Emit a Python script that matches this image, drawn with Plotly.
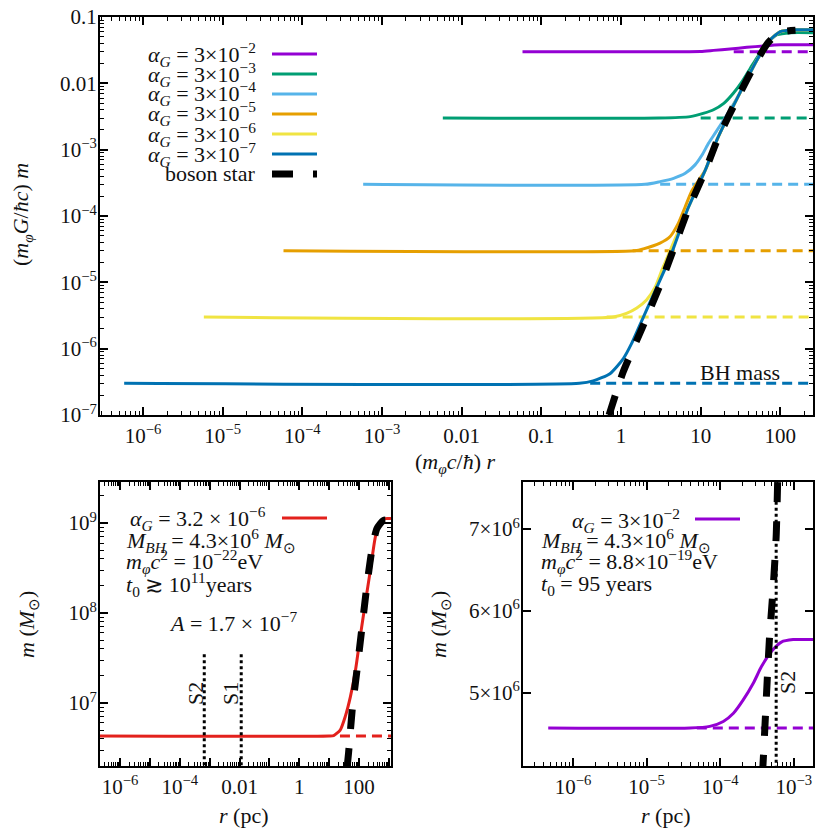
import plotly.graph_objects as go

# the page body has an 8px margin: the figure is sized/offset so that the
# visible 830x830 window matches the reference pixel layout
OFF = 8
W = H = 822

# ---------------- data: top panel (dimensionless units) ----------------
alpha_vals = [3e-2, 3e-3, 3e-4, 3e-5, 3e-6, 3e-7]
alpha_text = ["3×10<sup>−2</sup>", "3×10<sup>−3</sup>", "3×10<sup>−4</sup>",
              "3×10<sup>−5</sup>", "3×10<sup>−6</sup>", "3×10<sup>−7</sup>"]
colors = ["#9400D3", "#009E73", "#56B4E9", "#E69F00", "#F0E442", "#0072B2"]

r_a2 = [0.058, 5.0, 10.0, 14.5, 23.4, 38.0, 61.7, 100, 257]
m_a2 = [0.03, 0.03, 0.0302, 0.0314, 0.033, 0.0349, 0.0366, 0.038, 0.038]

r_a3 = [0.0058, 3.0, 7.4, 11.0, 14.5, 19.5, 25.7, 33.1, 42.2, 53.7, 68.4, 91.2, 135, 257]
m_a3 = [3e-3, 3e-3, 3.15e-3, 3.55e-3, 4.0e-3, 5.0e-3, 7.1e-3, 0.0106, 0.017, 0.027, 0.040, 0.054, 0.058, 0.058]

r_a4 = [5.8e-4, 2.0, 3.09, 4.57, 6.4, 8.5, 10.4, 12.6, 15.8, 30.2, 51.3, 70.8, 100, 148, 257]
m_a4 = [3e-4, 3e-4, 3.3e-4, 3.7e-4, 4.4e-4, 5.9e-4, 8.3e-4, 1.26e-3, 1.9e-3, 6.7e-3, 0.0228, 0.0425, 0.060, 0.064, 0.064]

r_a5 = [5.8e-5, 1.5, 1.91, 3.09, 4.14, 5.25, 6.4, 7.76, 11.5, 16.2, 30.2, 51.3, 70.8, 100, 148, 257]
m_a5 = [3e-5, 3e-5, 3.2e-5, 3.9e-5, 4.9e-5, 7.8e-5, 1.38e-4, 2.4e-4, 5.0e-4, 1.45e-3, 6.7e-3, 0.0228, 0.0425, 0.060, 0.064, 0.064]

r_a6 = [5.8e-6, 0.8, 1.17, 1.58, 2.09, 2.69, 3.24, 3.76, 6.92, 11.5, 16.2, 30.2, 51.3, 70.8, 100, 148, 257]
m_a6 = [3e-6, 3e-6, 3.4e-6, 4.1e-6, 5.4e-6, 8.5e-6, 1.5e-5, 2.3e-5, 1.3e-4, 5.0e-4, 1.45e-3, 6.7e-3, 0.0228, 0.0425, 0.060, 0.064, 0.064]

r_a7 = [5.8e-7, 0.3, 0.447, 0.726, 1.07, 1.36, 1.91, 2.82, 4.14, 6.92, 11.5, 16.2, 30.2, 51.3, 70.8, 100, 148, 257]
m_a7 = [3e-7, 3e-7, 3.27e-7, 4.2e-7, 7.1e-7, 1.2e-6, 3.0e-6, 8.5e-6, 2.4e-5, 1.3e-4, 5.0e-4, 1.45e-3, 6.7e-3, 0.0228, 0.0425, 0.060, 0.064, 0.064]

r_curves = [r_a2, r_a3, r_a4, r_a5, r_a6, r_a7]
m_curves = [m_a2, m_a3, m_a4, m_a5, m_a6, m_a7]

# BH-mass dashed levels: start radius of each dashed line
r_dash_start = [26.0, 10.0, 3.1, 1.4, 0.66, 0.41]
r_dash_end = 257

r_boson = [0.708, 1.06, 1.84, 3.09, 4.37, 6.92, 11.5, 16.2, 30.2, 51.3, 70.8, 100, 155]
m_boson = [1e-7, 4.4e-7, 2.04e-6, 9.1e-6, 2.75e-5, 1.23e-4, 4.9e-4, 1.41e-3, 6.6e-3, 0.0224, 0.0417, 0.0589, 0.0631]

top_xtick_vals = [1e-6, 1e-5, 1e-4, 1e-3, 0.01, 0.1, 1, 10, 100]
top_xtick_text = ["10<sup>−6</sup>", "10<sup>−5</sup>", "10<sup>−4</sup>", "10<sup>−3</sup>",
                  "0.01", "0.1", "1", "10", "100"]
top_ytick_vals = [1e-7, 1e-6, 1e-5, 1e-4, 1e-3, 0.01, 0.1]
top_ytick_text = ["10<sup>−7</sup>", "10<sup>−6</sup>", "10<sup>−5</sup>", "10<sup>−4</sup>",
                  "10<sup>−3</sup>", "0.01", "0.1"]

# ---------------- data: bottom-left (physical, alpha_G = 3.2e-6) ----------------
r_red = [2.1e-7, 10, 14.1, 23.4, 34.7, 51.3, 75.9, 110, 162, 240, 355, 513, 759, 1175]
m_red = [4.3e6, 4.3e6, 4.35e6, 5.0e6, 7.1e6, 1.17e7, 2.3e7, 5.5e7, 1.29e8, 3.0e8, 7.1e8, 1.02e9, 1.12e9, 1.12e9]
r_bl_boson = [39.8, 44.7, 58.9, 85.1, 126, 186, 269, 398, 661, 1175]
m_bl_boson = [1.9e6, 2.8e6, 8.3e6, 2.3e7, 7.0e7, 2.1e8, 5.0e8, 8.7e8, 1.07e9, 1.07e9]
M_BH = 4.3e6
r_red_dash = [23.0, 1175]
r_S2_bl = 6.6e-4
r_S1_bl = 0.0114
m_S_top_bl = 3.6e7
bl_xtick_vals = [1e-6, 1e-5, 1e-4, 1e-3, 0.01, 0.1, 1, 10, 100, 1000]
bl_xtick_text = ["10<sup>−6</sup>", "", "10<sup>−4</sup>", "", "0.01", "", "1", "", "100", ""]
bl_ytick_vals = [1e7, 1e8, 1e9]
bl_ytick_text = ["10<sup>7</sup>", "10<sup>8</sup>", "10<sup>9</sup>"]

# ---------------- data: bottom-right (alpha_G = 3e-2) ----------------
r_pur = [4.6e-7, 3.9e-5, 7.2e-5, 1.1e-4, 1.51e-4, 2.04e-4, 2.82e-4, 3.63e-4, 5.01e-4, 6.76e-4, 9.77e-4, 1.86e-3]
m_pur = [4.57e6, 4.57e6, 4.59e6, 4.65e6, 4.75e6, 4.91e6, 5.12e6, 5.32e6, 5.51e6, 5.62e6, 5.65e6, 5.65e6]
r_br_boson = [3.72e-4, 3.80e-4, 4.37e-4, 4.68e-4, 5.25e-4, 5.75e-4, 6.03e-4]
m_br_boson = [4.0e6, 4.11e6, 5.2e6, 5.69e6, 6.3e6, 6.91e6, 7.6e6]
m_pur_level = 4.57e6
r_pur_dash = [4.8e-5, 1.86e-3]
r_S2_br = 5.75e-4
m_S2_br = [4.0e6, 7.45e6]
br_xtick_vals = [1e-6, 1e-5, 1e-4, 1e-3]
br_xtick_text = ["10<sup>−6</sup>", "10<sup>−5</sup>", "10<sup>−4</sup>", "10<sup>−3</sup>"]
br_ytick_vals = [5e6, 6e6, 7e6]
br_ytick_text = ["5×10<sup>6</sup>", "6×10<sup>6</sup>", "7×10<sup>6</sup>"]

# ---------------- styling helpers ----------------
FONT = "Liberation Serif"
TXT = "#111111"


def px(x):
    return (x - OFF) / W


def py(y):
    return 1 - (y - OFF) / H


def log_minor(lo, hi):
    return [k * 10 ** e for e in range(lo, hi + 1) for k in range(2, 10)]


def axis(domain, rng, typ, tv, tt, minor_vals=None, anchor=None, standoff=1):
    d = dict(domain=domain, range=rng, type=typ, tickmode="array", tickvals=tv, ticktext=tt,
             showline=True, linecolor="black", linewidth=2, mirror="ticks",
             ticks="inside", ticklen=8, tickwidth=1.5, tickcolor="black",
             showgrid=False, zeroline=False, anchor=anchor, automargin=False,
             ticklabeloverflow="allow",
             tickfont=dict(family=FONT, size=21, color=TXT), ticklabelstandoff=standoff)
    if minor_vals is not None:
        d["minor"] = dict(tickmode="array", tickvals=minor_vals, ticks="inside", ticklen=4,
                          tickwidth=1.2, tickcolor="black", showgrid=False)
    return d


fig = go.Figure()

BLACK_DASH = "20px,19px"
LEVEL_DASH = "10px,6px"

# top panel: dashed BH-mass levels
for a, c, rs in zip(alpha_vals, colors, r_dash_start):
    fig.add_trace(go.Scatter(x=[rs, r_dash_end], y=[a, a], mode="lines",
                             line=dict(color=c, width=3, dash=LEVEL_DASH),
                             xaxis="x", yaxis="y", showlegend=False, hoverinfo="skip"))
# top panel: solid curves
for rr, mm, c in zip(r_curves, m_curves, colors):
    fig.add_trace(go.Scatter(x=rr, y=mm, mode="lines",
                             line=dict(color=c, width=3, shape="spline", smoothing=0.6),
                             xaxis="x", yaxis="y", showlegend=False, hoverinfo="skip"))
fig.add_trace(go.Scatter(x=r_boson, y=m_boson, mode="lines",
                         line=dict(color="black", width=7, dash=BLACK_DASH, shape="spline", smoothing=0.6),
                         xaxis="x", yaxis="y", showlegend=False, hoverinfo="skip"))

# bottom-left
fig.add_trace(go.Scatter(x=r_red_dash, y=[M_BH, M_BH], mode="lines",
                         line=dict(color="#E3211C", width=3, dash=LEVEL_DASH),
                         xaxis="x2", yaxis="y2", showlegend=False, hoverinfo="skip"))
fig.add_trace(go.Scatter(x=r_red, y=m_red, mode="lines",
                         line=dict(color="#E3211C", width=3, shape="spline", smoothing=0.6),
                         xaxis="x2", yaxis="y2", showlegend=False, hoverinfo="skip"))
fig.add_trace(go.Scatter(x=r_bl_boson, y=m_bl_boson, mode="lines",
                         line=dict(color="black", width=7, dash=BLACK_DASH, shape="spline", smoothing=0.6),
                         xaxis="x2", yaxis="y2", showlegend=False, hoverinfo="skip"))
for rs in [r_S2_bl, r_S1_bl]:
    fig.add_trace(go.Scatter(x=[rs, rs], y=[1.5e6, m_S_top_bl], mode="lines",
                             line=dict(color="black", width=3, dash="3px,3px"),
                             xaxis="x2", yaxis="y2", showlegend=False, hoverinfo="skip"))

# bottom-right
fig.add_trace(go.Scatter(x=r_pur_dash, y=[m_pur_level, m_pur_level], mode="lines",
                         line=dict(color="#9400D3", width=3, dash=LEVEL_DASH),
                         xaxis="x3", yaxis="y3", showlegend=False, hoverinfo="skip"))
fig.add_trace(go.Scatter(x=r_pur, y=m_pur, mode="lines",
                         line=dict(color="#9400D3", width=3, shape="spline", smoothing=0.6),
                         xaxis="x3", yaxis="y3", showlegend=False, hoverinfo="skip"))
fig.add_trace(go.Scatter(x=r_br_boson, y=m_br_boson, mode="lines",
                         line=dict(color="black", width=7, dash=BLACK_DASH, shape="spline", smoothing=0.6),
                         xaxis="x3", yaxis="y3", showlegend=False, hoverinfo="skip"))
fig.add_trace(go.Scatter(x=[r_S2_br, r_S2_br], y=m_S2_br, mode="lines",
                         line=dict(color="black", width=3, dash="3px,3px"),
                         xaxis="x3", yaxis="y3", showlegend=False, hoverinfo="skip"))

layout = dict(
    width=W, height=H, autosize=False, margin=dict(l=0, r=0, t=0, b=0, pad=0, autoexpand=False),
    paper_bgcolor="white", plot_bgcolor="white", showlegend=False,
    xaxis=axis([px(100), px(813)], [-6.54, 2.41], "log", top_xtick_vals, top_xtick_text,
               log_minor(-7, 2), anchor="y"),
    yaxis=axis([py(415), py(17)], [-7, -1], "log", top_ytick_vals, top_ytick_text,
               log_minor(-7, -2), anchor="x", standoff=-3),
    xaxis2=axis([px(100), px(391)], [-6.67, 3.07], "log", bl_xtick_vals, bl_xtick_text,
                log_minor(-7, 3), anchor="y2"),
    yaxis2=axis([py(766), py(482)], [6.30, 9.456], "log", bl_ytick_vals, bl_ytick_text,
                log_minor(6, 9), anchor="x2", standoff=-3),
    xaxis3=axis([px(523), px(813)], [-6.68, -2.74], "log", br_xtick_vals, br_xtick_text,
                log_minor(-7, -3), anchor="y3"),
    yaxis3=axis([py(766), py(482)], [4.106e6, 7.575e6], "linear", br_ytick_vals, br_ytick_text,
                None, anchor="x3", standoff=-3),
)
fig.update_layout(**layout)

shapes = []
annotations = []


def note(x, y, text, xanchor="left", size=22, angle=0):
    annotations.append(dict(x=px(x), y=py(y), xref="paper", yref="paper", text=text,
                            showarrow=False, xanchor=xanchor, yanchor="middle", textangle=angle,
                            font=dict(family=FONT, size=size, color=TXT)))


def seg(x0, x1, y, color, width=3, dash="solid"):
    shapes.append(dict(type="line", xref="paper", yref="paper", x0=px(x0), x1=px(x1),
                       y0=py(y), y1=py(y), line=dict(color=color, width=width, dash=dash)))


# top legend
leg_y = [54, 74, 94, 114, 134, 154]
for yy, t, c in zip(leg_y, alpha_text, colors):
    note(258, yy, "<i>α</i><sub><i>G</i></sub> = " + t, xanchor="right")
    seg(272, 317, yy, c)
note(258, 174, "boson star", xanchor="right")
seg(272, 317, 174, "black", width=7, dash="21px,20px")
note(740, 372, "BH mass", xanchor="center")

# axis titles
note(22, 215, "(<i>m</i><sub><i>φ</i></sub><i>G</i>/<i>ħc</i>) <i>m</i>", xanchor="center", angle=-90)
note(455, 463, "(<i>m</i><sub><i>φ</i></sub><i>c</i>/<i>ħ</i>) <i>r</i>", xanchor="center")
note(28, 625, "<i>m</i> (<i>M</i><sub>⊙</sub>)", xanchor="center", angle=-90)
note(243, 815, "<i>r</i> (pc)", xanchor="center")
note(440, 625, "<i>m</i> (<i>M</i><sub>⊙</sub>)", xanchor="center", angle=-90)
note(665, 815, "<i>r</i> (pc)", xanchor="center")

# bottom-left annotations
note(268, 519, "<i>α</i><sub><i>G</i></sub> = 3.2 × 10<sup>−6</sup>", xanchor="right")
seg(282, 327, 518, "#E3211C")
note(124, 540, "<i>M</i><sub><i>BH</i></sub> = 4.3×10<sup>6</sup> <i>M</i><sub>⊙</sub>")
note(124, 561, "<i>m</i><sub><i>φ</i></sub><i>c</i><sup>2</sup> = 10<sup>−22</sup>eV")
note(124, 584, "<i>t</i><sub>0</sub> ≳ 10<sup>11</sup>years")
note(233, 622, "<i>A</i> = 1.7 × 10<sup>−7</sup>", xanchor="center")
note(195, 694, "S2", xanchor="center", angle=-90)
note(230, 694, "S1", xanchor="center", angle=-90)

# bottom-right annotations
note(682, 520, "<i>α</i><sub><i>G</i></sub> = 3×10<sup>−2</sup>", xanchor="right")
seg(695, 740, 519, "#9400D3")
note(539, 540, "<i>M</i><sub><i>BH</i></sub> = 4.3×10<sup>6</sup> <i>M</i><sub>⊙</sub>")
note(539, 561, "<i>m</i><sub><i>φ</i></sub><i>c</i><sup>2</sup> = 8.8×10<sup>−19</sup>eV")
note(539, 585, "<i>t</i><sub>0</sub> = 95 years")
note(787, 683, "S2", xanchor="center", angle=-90)

fig.update_layout(shapes=shapes, annotations=annotations)
fig.write_html("out.html")
